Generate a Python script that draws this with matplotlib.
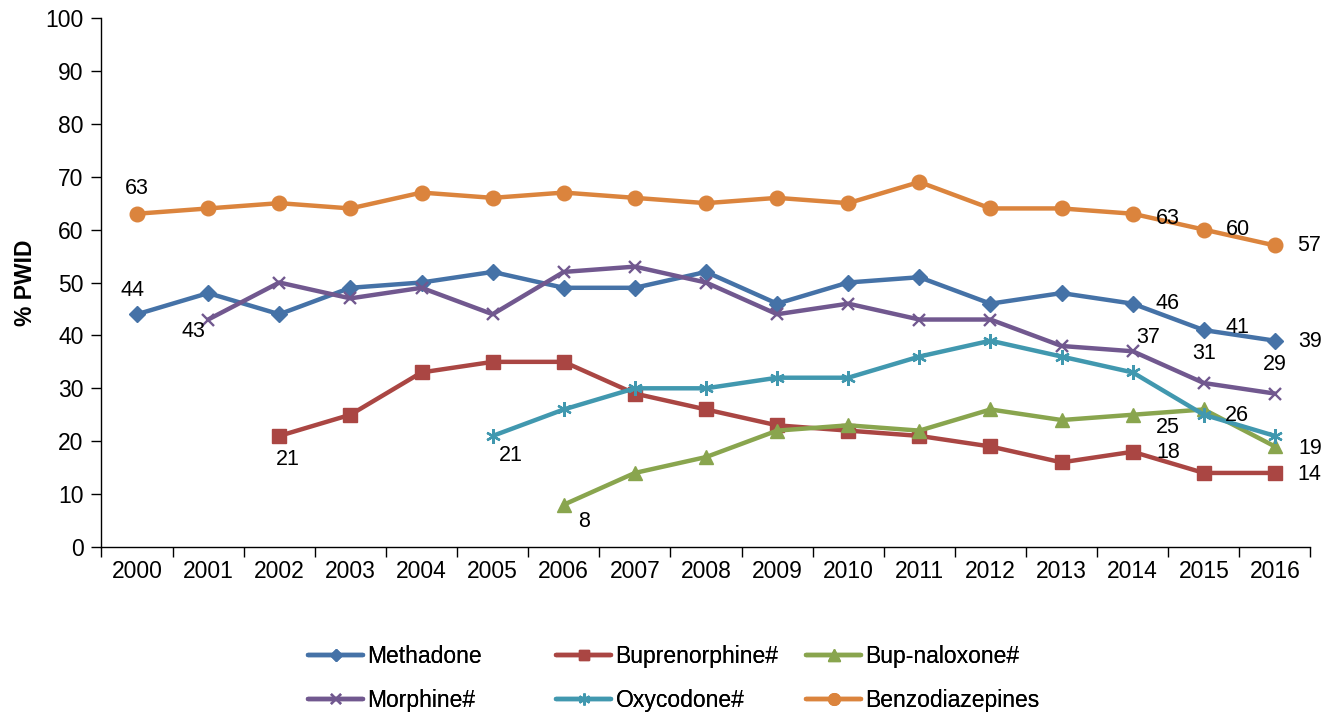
import matplotlib
matplotlib.use("Agg")
import matplotlib.pyplot as plt
import numpy as np

plt.rcParams['font.family'] = ['Liberation Sans', 'DejaVu Sans']

years = [str(y) for y in range(2000, 2017)]
methadone = [44, 48, 44, 49, 50, 52, 49, 49, 52, 46, 50, 51, 46, 48, 46, 41, 39]
buprenorphine = [None, None, 21, 25, 33, 35, 35, 29, 26, 23, 22, 21, 19, 16, 18, 14, 14]
bup_naloxone = [None]*6 + [8, 14, 17, 22, 23, 22, 26, 24, 25, 26, 19]
morphine = [None, 43, 50, 47, 49, 44, 52, 53, 50, 44, 46, 43, 43, 38, 37, 31, 29]
oxycodone = [None]*5 + [21, 26, 30, 30, 32, 32, 36, 39, 36, 33, 25, 21]
benzo = [63, 64, 65, 64, 67, 66, 67, 66, 65, 66, 65, 69, 64, 64, 63, 60, 57]

series = [
    ("Methadone", methadone, "#4572A7", "D", 8),
    ("Buprenorphine#", buprenorphine, "#AA4643", "s", 9.5),
    ("Bup-naloxone#", bup_naloxone, "#89A54E", "^", 10.5),
    ("Morphine#", morphine, "#71588F", "x", 9),
    ("Oxycodone#", oxycodone, "#4198AF", (6, 2, 0), 10.5),
    ("Benzodiazepines", benzo, "#DB843D", "o", 10.5),
]

# labels: (series index, year index, dx px, dy px)
labels = [
    (5, 0, 0, 25), (5, 14, 35, -5), (5, 15, 34, 0), (5, 16, 34, 0),
    (0, 0, -5, 24), (0, 14, 35, 0), (0, 15, 34, 3), (0, 16, 35, -1),
    (3, 1, -15, -12), (3, 14, 15, 14), (3, 15, 0, 30), (3, 16, 0, 29),
    (1, 2, 9, -24), (1, 14, 36, -1), (1, 16, 34, -2),
    (4, 5, 18, -20),
    (2, 6, 20, -17), (2, 14, 35, -13), (2, 15, 33, -6), (2, 16, 35, -2),
]

fig = plt.figure(figsize=(13.35, 7.13), dpi=100)
ax = fig.add_axes([101.5/1335, (713-547)/713, (1310.5-101.5)/1335, (547-18)/713])

x = np.arange(len(years))
handles = []
for name, vals, col, mk, ms in series:
    v = np.array([np.nan if a is None else a for a in vals], dtype=float)
    mew = 1.7 if mk in ("x",) or isinstance(mk, tuple) else 1
    h, = ax.plot(x, v, color=col, lw=3.2, marker=mk, markersize=ms,
                 markeredgewidth=mew, markeredgecolor=col, markerfacecolor=col,
                 label=name, solid_capstyle='round')
    handles.append(h)

for si, yi, dx, dy in labels:
    val = series[si][1][yi]
    ax.annotate(str(val), (x[yi], val), xytext=(dx, dy), textcoords='offset pixels',
                ha='center', va='center', fontsize=15.5, color='black')

ax.set_xlim(-0.5, len(years) - 0.5)
ax.set_ylim(0, 100)
ax.set_yticks(range(0, 101, 10))
ax.set_xticks(x)
ax.set_xticklabels(years)
ax.set_xticks(np.arange(-0.5, len(years), 1), minor=True)
ax.tick_params(axis='x', which='major', length=0, labelsize=16.5, pad=9)
ax.tick_params(axis='x', which='minor', length=7, width=1, direction='out')
ax.tick_params(axis='y', length=7, width=1, direction='out', labelsize=16.5, pad=6)
for s in ['top', 'right']:
    ax.spines[s].set_visible(False)
for s in ['left', 'bottom']:
    ax.spines[s].set_linewidth(1)
ax.set_ylabel('% PWID', fontsize=16.5, fontweight='bold', labelpad=6)

cols = [(308, [handles[0], handles[3]]), (556, [handles[1], handles[4]]), (806, [handles[2], handles[5]])]
for xp, hs in cols:
    lg = fig.legend(handles=hs, labels=[h.get_label() for h in hs], loc='upper left',
                    bbox_to_anchor=(xp/1335, (713-645)/713), frameon=False, fontsize=16.5,
                    handlelength=2.4, handletextpad=0.2, labelspacing=0.9, borderpad=0,
                    borderaxespad=0, markerscale=0.8)
    fig.add_artist(lg)

fig.savefig('out.png', dpi=100)
